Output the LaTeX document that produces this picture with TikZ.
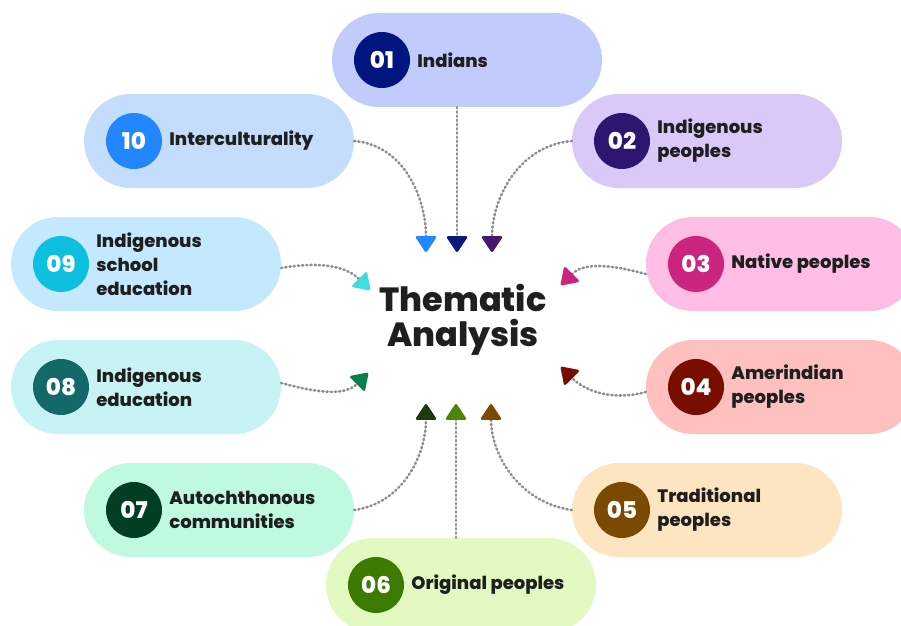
\documentclass[tikz,border=0pt]{standalone}
\usepackage{fontspec}
\setmainfont{Poppins}[BoldFont={Poppins ExtraBold}]
\usetikzlibrary{arrows.meta,positioning}

\definecolor{txt}{HTML}{1F1F1F}
\definecolor{dotgray}{HTML}{8E8E8E}
% pill fills
\definecolor{pill01}{HTML}{C2CCFC}
\definecolor{pill02}{HTML}{D9C8F8}
\definecolor{pill03}{HTML}{FDBDE5}
\definecolor{pill04}{HTML}{FEC0BF}
\definecolor{pill05}{HTML}{FEE5C2}
\definecolor{pill06}{HTML}{E2FAC2}
\definecolor{pill07}{HTML}{BEF9E0}
\definecolor{pill08}{HTML}{C8F3F4}
\definecolor{pill09}{HTML}{C4E8FD}
\definecolor{pill10}{HTML}{C4DDFD}
% badge fills
\definecolor{badge01}{HTML}{001580}
\definecolor{badge02}{HTML}{2E1670}
\definecolor{badge03}{HTML}{CC2580}
\definecolor{badge04}{HTML}{7A0D02}
\definecolor{badge05}{HTML}{7A4A02}
\definecolor{badge06}{HTML}{3D7A02}
\definecolor{badge07}{HTML}{023F22}
\definecolor{badge08}{HTML}{136868}
\definecolor{badge09}{HTML}{0FBFDF}
\definecolor{badge10}{HTML}{2286FE}
% arrow heads
\definecolor{arrow01}{HTML}{0A1A80}
\definecolor{arrow02}{HTML}{4A1770}
\definecolor{arrow03}{HTML}{CC2580}
\definecolor{arrow04}{HTML}{7A0D02}
\definecolor{arrow05}{HTML}{7A4A02}
\definecolor{arrow06}{HTML}{4C8506}
\definecolor{arrow07}{HTML}{1E3B0D}
\definecolor{arrow08}{HTML}{078049}
\definecolor{arrow09}{HTML}{3FDCE0}
\definecolor{arrow10}{HTML}{2286FE}

\tikzset{
	pill/.style={rectangle, draw=none, rounded corners=46.9pt, minimum width=270pt, minimum height=94pt},
	badge/.style={circle, minimum size=56pt, inner sep=0pt, text=white, font=\fontsize{23}{23}\selectfont\bfseries},
	lbl/.style={align=left, text=txt, inner sep=0pt, font=\fontsize{18}{24}\selectfont\bfseries},
	link/.style={draw=dotgray, line width=2.6pt, dash pattern=on 1.2pt off 3pt, line cap=round},
	arr/.style={-{Triangle[round, length=17pt, width=22pt, color=#1, fill=#1]}}
}

\begin{document}
\begin{tikzpicture}[x=1pt,y=1pt]

\useasboundingbox (0,0) rectangle (901,625);
\clip (0,0) rectangle (901,625);

% Pills with number and label
\foreach \i/\px/\py/\txt in {
	01/467/565/{Indians},
	02/707/484/{Indigenous\\peoples},
	03/781/361/{Native peoples},
	04/781/238/{Amerindian\\peoples},
	05/707/115/{Traditional\\peoples},
	06/461/40/{Original peoples},
	07/219/115/{Autochthonous\\communities},
	08/146/238/{Indigenous\\education},
	09/146/361/{Indigenous\\school\\education},
	10/219/484/{Interculturality}}{
	\node[pill, fill=pill\i] (p\i) at (\px,\py) {};
	\node[badge, fill=badge\i] (n\i) at ([xshift=-85pt]p\i.center) {\i};
	\node[lbl, right=7pt of n\i] (t\i) {\txt};
}

% Centre
\node[align=center, text=txt, font=\fontsize{33.5}{35}\selectfont\bfseries] (title) at (463,305) {Thematic\\Analysis};

% Arrow ends
\coordinate (a10) at (426,373);
\coordinate (a01) at (457,373);
\coordinate (a02) at (492,373);
\coordinate (a07) at (426,221);
\coordinate (a06) at (456,221);
\coordinate (a05) at (491,221);
\coordinate (a09) at (370,335);
\coordinate (a03) at (561,340);
\coordinate (a08) at (368,252);
\coordinate (a04) at (561,258);

% Connectors
\draw[link, arr=arrow01] (p01.south -| a01) -- (a01);
\draw[link, arr=arrow10] (p10.east) to[out=-5, in=90] (a10);
\draw[link, arr=arrow02] (p02.west) to[out=185, in=90] (a02);

\draw[link, arr=arrow06] (p06.north -| a06) -- (a06);
\draw[link, arr=arrow07] (p07.east) to[out=8, in=-90] (a07);
\draw[link, arr=arrow05] (p05.west) to[out=172, in=-90] (a05);

\draw[link, arr=arrow09] ([yshift=-4pt]p09.east) to[out=10, in=135] (a09);
\draw[link, arr=arrow08] ([yshift=4pt]p08.east) to[out=-15, in=-135] (a08);
\draw[link, arr=arrow03] ([yshift=-10pt]p03.west) to[out=165, in=45] (a03);
\draw[link, arr=arrow04] ([yshift=-5pt]p04.west) to[out=195, in=-45] (a04);

\end{tikzpicture}
\end{document}
